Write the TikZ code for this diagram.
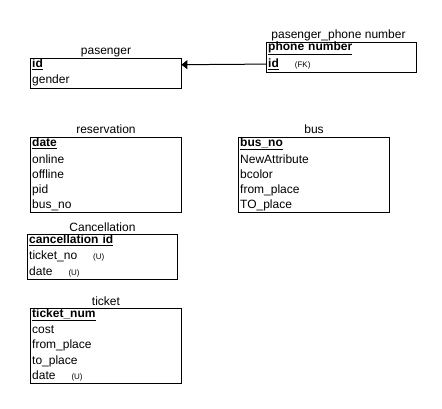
\documentclass[tikz,border=0pt]{standalone}
\usepackage{fontspec}
\setmainfont{Liberation Sans}
\usetikzlibrary{arrows.meta}

% key attribute (bold, underlined) and small annotation after an attribute
\newcommand{\pkey}[1]{\underline{\textbf{#1}}}
\newcommand{\anno}[1]{\hspace*{16pt}{\fontsize{8}{9}\selectfont #1}}

\tikzset{
  tbl/.style={draw, line width=1pt, anchor=north west, inner sep=0pt,
              minimum width=151pt},
  ttl/.style={anchor=base, inner sep=0pt, font=\fontsize{12}{14}\selectfont},
  row/.style={anchor=north west, text width=147pt, inner xsep=2pt,
              inner ysep=0pt, minimum height=15pt, align=left,
              font=\fontsize{12}{14}\selectfont},
  fk/.style={-{Triangle[length=6pt,width=9pt]}, line width=1pt}
}

\begin{document}
\begin{tikzpicture}[x=1pt, y=-1pt]
  \fill[white] (0,0) rectangle (442,409);
  \useasboundingbox (0,0) rectangle (442,409);

  % pasenger
  \node[tbl, minimum height=30pt] (pas) at (30,58) {};
  \node[ttl] (pasT) at ([yshift=3pt]pas.north) {pasenger};
  \node[row] (pasId) at ([yshift=1pt]pas.north west) {\pkey{id}};
  \node[row] (pasGender) at (pasId.south west) {gender};

  % pasenger_phone number
  \node[tbl, minimum width=150pt, minimum height=30pt] (ph) at (266,42) {};
  \node[ttl] (phT) at ([yshift=3pt, xshift=-3pt]ph.north) {pasenger\_phone number};
  \node[row, text width=146pt] (phNum) at ([yshift=1pt]ph.north west) {\pkey{phone number}};
  \node[row, text width=146pt] (phId) at (phNum.south west) {\underline{\textbf{id}}\anno{(FK)}};

  % reservation
  \node[tbl, minimum height=75pt] (res) at (30,137) {};
  \node[ttl] (resT) at ([yshift=3pt]res.north) {reservation};
  \node[row] (resDate) at ([yshift=1pt]res.north west) {\pkey{date}};
  \node[row] (resOnline) at (resDate.south west) {online};
  \node[row] (resOffline) at (resOnline.south west) {offline};
  \node[row] (resPid) at (resOffline.south west) {pid};
  \node[row] (resBus) at (resPid.south west) {bus\_no};

  % bus
  \node[tbl, minimum height=75pt] (bus) at (238,137) {};
  \node[ttl] (busT) at ([yshift=3pt]bus.north) {bus};
  \node[row] (busNo) at ([yshift=1pt]bus.north west) {\pkey{bus\_no}};
  \node[row] (busNew) at (busNo.south west) {NewAttribute};
  \node[row] (busColor) at (busNew.south west) {bcolor};
  \node[row] (busFrom) at (busColor.south west) {from\_place};
  \node[row] (busTo) at (busFrom.south west) {TO\_place};

  % Cancellation
  \node[tbl, minimum width=150pt, minimum height=45pt] (can) at (27,234) {};
  \node[ttl] (canT) at ([yshift=3pt]can.north) {Cancellation};
  \node[row, text width=146pt] (canId) at ([yshift=1pt]can.north west) {\pkey{cancellation id}};
  \node[row, text width=146pt] (canTicket) at (canId.south west) {ticket\_no\anno{(U)}};
  \node[row, text width=146pt] (canDate) at (canTicket.south west) {date\anno{(U)}};

  % ticket
  \node[tbl, minimum height=75pt] (tic) at (30,308) {};
  \node[ttl] (ticT) at ([yshift=3pt]tic.north) {ticket};
  \node[row] (ticNum) at ([yshift=1pt]tic.north west) {\pkey{ticket\_num}};
  \node[row] (ticCost) at (ticNum.south west) {cost};
  \node[row] (ticFrom) at (ticCost.south west) {from\_place};
  \node[row] (ticTo) at (ticFrom.south west) {to\_place};
  \node[row] (ticDate) at (ticTo.south west) {date\anno{(U)}};

  % foreign key reference
  \draw[fk] (phId.west) -- (pasId.east);
\end{tikzpicture}
\end{document}
